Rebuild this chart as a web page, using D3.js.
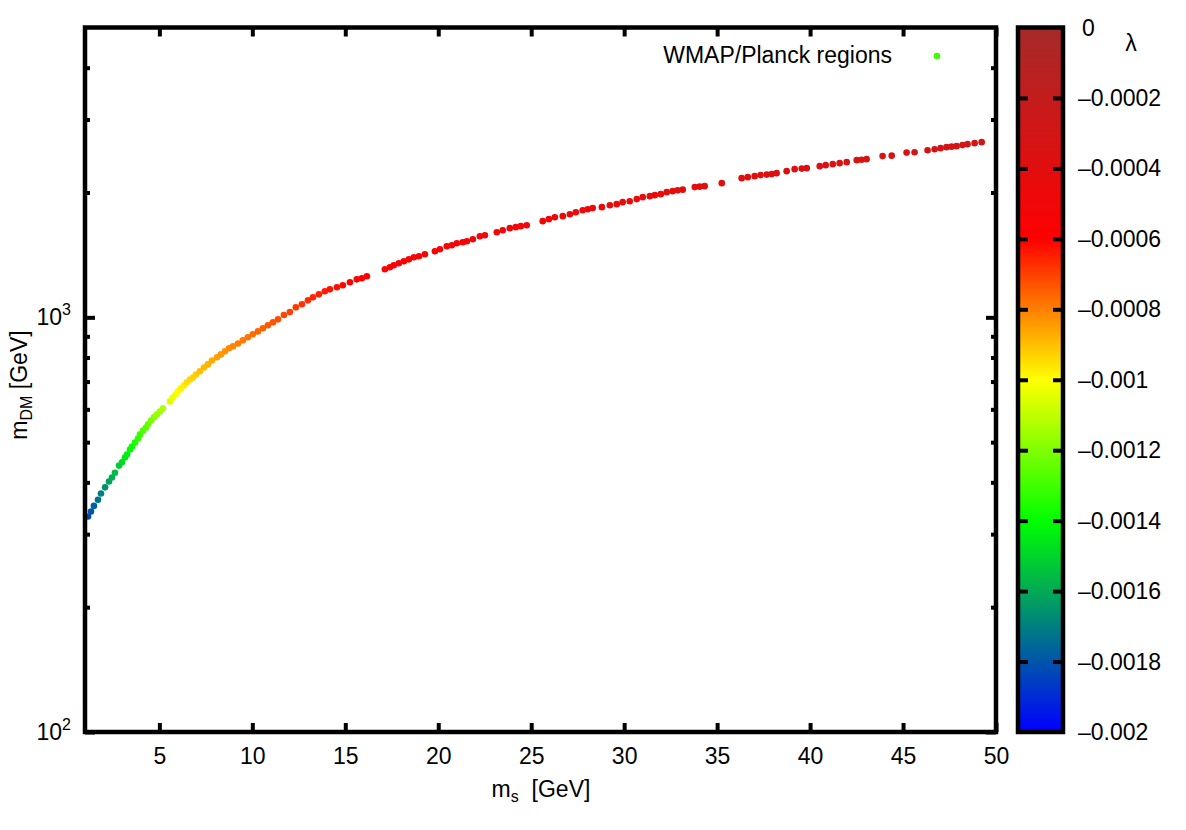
<!DOCTYPE html>
<html><head><meta charset="utf-8">
<script src="https://cdn.jsdelivr.net/npm/d3@7"></script>
<style>
html,body{margin:0;padding:0;background:#fff;}
text{font-family:"Liberation Sans",Arial,Helvetica,sans-serif;fill:#000;}
</style></head>
<body>
<svg id="chart" width="1186" height="830"></svg>
<script>
// ---------------- data ----------------
const msValues = [
1.16,1.32,1.48,1.70,1.86,2.08,2.29,2.45,2.61,2.83,2.99,3.15,3.26,3.42,3.53,3.69,3.85,3.96,4.12,4.28,
4.39,4.55,4.71,4.87,5.03,5.19,5.57,5.73,5.89,6.00,6.16,6.32,6.48,6.65,6.81,6.97,7.18,7.40,7.61,7.83,
8.10,8.31,8.53,8.74,8.96,9.23,9.49,9.76,10.03,10.30,10.57,10.84,11.11,11.38,11.70,12.02,12.34,12.67,12.99,13.26,
13.58,13.90,14.17,14.55,14.87,15.25,15.62,15.89,16.16,
17.13,17.40,17.61,17.88,18.15,18.42,18.69,18.96,19.28,19.82,20.09,20.46,20.73,21.00,21.32,21.54,21.86,22.24,22.51,
23.15,23.47,23.85,24.17,24.44,24.76,25.62,25.95,26.27,26.70,27.08,27.40,27.77,28.04,28.31,28.80,29.23,29.60,29.92,
30.30,30.68,31.00,31.38,31.65,31.97,32.29,32.61,32.88,33.15,33.80,34.06,34.33,35.25,36.32,36.65,37.02,37.34,37.67,
37.94,38.20,38.74,39.17,39.55,39.82,40.52,40.84,41.22,41.59,41.97,42.51,42.77,43.04,43.90,44.39,45.19,45.62,46.32,
46.70,47.02,47.34,47.61,47.88,48.20,48.47,48.85,49.23];
const mDMValues = [
331,340,351,363,376,389,402,411,422,439,447,459,467,480,488,499,510,522,533,542,
552,564,574,583,593,603,627,641,652,663,674,685,697,708,716,728,741,757,770,787,
801,814,828,842,851,865,880,895,910,925,941,957,973,989,1013,1030,1057,1075,1099,1118,
1136,1156,1168,1182,1195,1215,1235,1242,1256,
1306,1321,1335,1350,1365,1380,1396,1404,1419,1443,1459,1484,1492,1509,1517,1526,1543,1569,1577,
1604,1622,1641,1650,1659,1668,1706,1725,1744,1754,1773,1793,1813,1823,1834,1844,1864,1875,1896,
1906,1928,1949,1960,1971,1982,2004,2015,2026,2032,2061,2066,2072,2107,2166,2178,2190,2203,2209,
2215,2227,2252,2277,2284,2290,2315,2328,2341,2354,2367,2394,2400,2407,2448,2454,2496,2502,2530,
2544,2559,2573,2580,2587,2602,2616,2631,2645];
const lambdaValues = [
-0.00184,-0.00180,-0.00177,-0.00173,-0.00170,-0.00166,-0.00162,-0.00159,-0.00156,-0.00152,
-0.00149,-0.00146,-0.00144,-0.00141,-0.00139,-0.00136,-0.00133,-0.00131,-0.00128,-0.00126,
-0.00124,-0.00121,-0.00119,-0.00117,-0.00115,-0.00113,-0.00105,-0.00103,-0.00101,-0.00100,
-0.00098,-0.00097,-0.00095,-0.00094,-0.00093,-0.00092,-0.00090,-0.00089,-0.00088,-0.00087,
-0.00085,-0.00084,-0.00083,-0.00082,-0.00081,-0.00080,-0.00079,-0.00078,-0.00077,-0.00076,
-0.00075,-0.00074,-0.00073,-0.00072,-0.00071,-0.00070,-0.00069,-0.00068,-0.00067,-0.00066,
-0.00065,-0.00064,-0.00063,-0.00062,-0.00061,-0.00060,-0.00059,-0.00058,-0.00058,
-0.000560,-0.000558,-0.000556,-0.000554,-0.000552,-0.000550,-0.000548,-0.000546,-0.000544,-0.000540,
-0.000538,-0.000535,-0.000533,-0.000531,-0.000529,-0.000527,-0.000525,-0.000522,-0.000520,
-0.000515,-0.000512,-0.000509,-0.000506,-0.000504,-0.000501,-0.000494,-0.000491,-0.000488,-0.000485,
-0.000481,-0.000478,-0.000475,-0.000473,-0.000470,-0.000466,-0.000462,-0.000459,-0.000456,
-0.000452,-0.000449,-0.000446,-0.000443,-0.000440,-0.000437,-0.000434,-0.000431,-0.000429,-0.000426,
-0.000420,-0.000418,-0.000415,-0.000407,-0.000397,-0.000394,-0.000391,-0.000388,-0.000385,
-0.000383,-0.000380,-0.000376,-0.000372,-0.000369,-0.000367,-0.000361,-0.000358,-0.000355,-0.000352,
-0.000349,-0.000345,-0.000343,-0.000341,-0.000334,-0.000330,-0.000324,-0.000320,-0.000315,
-0.000312,-0.000310,-0.000307,-0.000305,-0.000303,-0.000301,-0.000299,-0.000296,-0.000293];

const xTickValues = [5,10,15,20,25,30,35,40,45,50];
const yMajorTicks = [100,1000];
const yMajorExponents = ["2","3"];
const yMinorTicks = [200,300,400,500,600,700,800,900,2000,3000,4000];
const cbTickValues = [0,-0.0002,-0.0004,-0.0006,-0.0008,-0.001,-0.0012,-0.0014,-0.0016,-0.0018,-0.002];
const cbTickLabels = ["0","\u20130.0002","\u20130.0004","\u20130.0006","\u20130.0008","\u20130.001","\u20130.0012","\u20130.0014","\u20130.0016","\u20130.0018","\u20130.002"];
const paletteStops = [-0.002,-0.0014,-0.001,-0.0006,0];
const paletteColors = ["#0000ff","#00ff00","#ffff00","#ff0000","#a52a2a"];
const legendLabel = "WMAP/Planck regions";
const legendLambda = -0.0013;

// ---------------- layout ----------------
const svg = d3.select("#chart");
const L = 85, R = 996, T = 27.5, B = 732;
const cbL = 1018, cbR = 1063;
const fs = 23;

const x = d3.scaleLinear().domain([1,50]).range([L,R]);
const y = d3.scaleLog().domain([100,5000]).range([B,T]);
const cb = d3.scaleLinear().domain([-0.002,0]).range([B,T]);
const pal = d3.scaleLinear().domain(paletteStops).range(paletteColors).interpolate(d3.interpolateRgb).clamp(true);

svg.append("rect").attr("width",1186).attr("height",830).attr("fill","#fff");

const points = msValues.map((m,i)=>({m, d:mDMValues[i], l:lambdaValues[i]}));

// points
const clipId = "plotclip";
svg.append("clipPath").attr("id",clipId).append("rect").attr("x",L).attr("y",T).attr("width",R-L).attr("height",B-T);
svg.append("g").attr("clip-path","url(#"+clipId+")")
  .selectAll("circle").data(points).join("circle")
  .attr("cx",d=>x(d.m)).attr("cy",d=>y(d.d)).attr("r",3.3)
  .attr("fill",d=>pal(d.l));

// axes (ticks pointing inward)
function styleAxis(g){
  g.select(".domain").remove();
  g.selectAll(".tick line").attr("stroke","#000").attr("stroke-width",4);
}
const gxB = svg.append("g").attr("transform",`translate(0,${B})`)
  .call(d3.axisBottom(x).tickValues(xTickValues).tickSize(-9).tickFormat(d3.format("d")));
styleAxis(gxB);
gxB.selectAll(".tick text").attr("y",32).attr("dy",null).attr("font-size",fs);

const gxT = svg.append("g").attr("transform",`translate(0,${T})`)
  .call(d3.axisTop(x).tickValues(xTickValues).tickSize(-9).tickFormat(""));
styleAxis(gxT);

[["axisLeft",L],["axisRight",R]].forEach(([fn,pos])=>{
  const gM = svg.append("g").attr("transform",`translate(${pos},0)`)
    .call(d3[fn](y).tickValues(yMajorTicks).tickSize(-10).tickFormat(""));
  styleAxis(gM);
  const gm = svg.append("g").attr("transform",`translate(${pos},0)`)
    .call(d3[fn](y).tickValues(yMinorTicks).tickSize(-5).tickFormat(""));
  styleAxis(gm);
});

// y tick labels 10^n
const yl = svg.append("g").selectAll("text").data(yMajorTicks).join("text")
  .attr("x",71).attr("y",d=>y(d)+7.5).attr("text-anchor","end").attr("font-size",fs);
yl.append("tspan").text("10");
yl.append("tspan").attr("dy",-10).attr("font-size",16).text((d,i)=>yMajorExponents[i]);

// frame
svg.append("rect").attr("x",L).attr("y",T).attr("width",R-L).attr("height",B-T)
  .attr("fill","none").attr("stroke","#000").attr("stroke-width",4.5);

// axis titles
const xt = svg.append("text").attr("x",541).attr("y",797).attr("text-anchor","middle")
  .attr("font-size",fs).style("white-space","pre");
xt.append("tspan").text("m");
xt.append("tspan").attr("dy",5).attr("font-size",16).text("s");
xt.append("tspan").attr("dy",-5).text("  [GeV]");

const yt = svg.append("text").attr("transform","translate(27,385) rotate(-90)")
  .attr("text-anchor","middle").attr("font-size",fs);
yt.append("tspan").text("m");
yt.append("tspan").attr("dy",5).attr("font-size",16).text("DM");
yt.append("tspan").attr("dy",-5).text(" [GeV]");

// legend
svg.append("text").attr("x",892).attr("y",63).attr("text-anchor","end").attr("font-size",fs).text(legendLabel);
svg.append("circle").attr("cx",937).attr("cy",56).attr("r",3.3).attr("fill",pal(legendLambda));

// colour box
const defs = svg.append("defs");
const grad = defs.append("linearGradient").attr("id","cbgrad").attr("x1",0).attr("y1",1).attr("x2",0).attr("y2",0);
grad.selectAll("stop").data(paletteStops).join("stop")
  .attr("offset",d=>(d+0.002)/0.002).attr("stop-color",(d,i)=>paletteColors[i]);
svg.append("rect").attr("x",cbL).attr("y",T).attr("width",cbR-cbL).attr("height",B-T).attr("fill","url(#cbgrad)");

const cbInner = cbTickValues.filter(v=>v<0 && v>-0.002);
const gcl = svg.append("g").attr("transform",`translate(${cbL},0)`)
  .call(d3.axisLeft(cb).tickValues(cbInner).tickSize(-10).tickFormat(""));
styleAxis(gcl);
const gcr = svg.append("g").attr("transform",`translate(${cbR},0)`)
  .call(d3.axisRight(cb).tickValues(cbInner).tickSize(-10).tickFormat(""));
styleAxis(gcr);
svg.append("rect").attr("x",cbL).attr("y",T).attr("width",cbR-cbL).attr("height",B-T)
  .attr("fill","none").attr("stroke","#000").attr("stroke-width",4.5);

svg.append("g").selectAll("text").data(cbTickValues).join("text")
  .attr("x",(d,i)=>d===0?1082:1078).attr("y",d=>cb(d)+8).attr("font-size",fs)
  .text((d,i)=>cbTickLabels[i]);
svg.append("text").attr("x",1131).attr("y",51).attr("text-anchor","middle").attr("font-size",fs).text("\u03bb");
</script>
</body></html>
